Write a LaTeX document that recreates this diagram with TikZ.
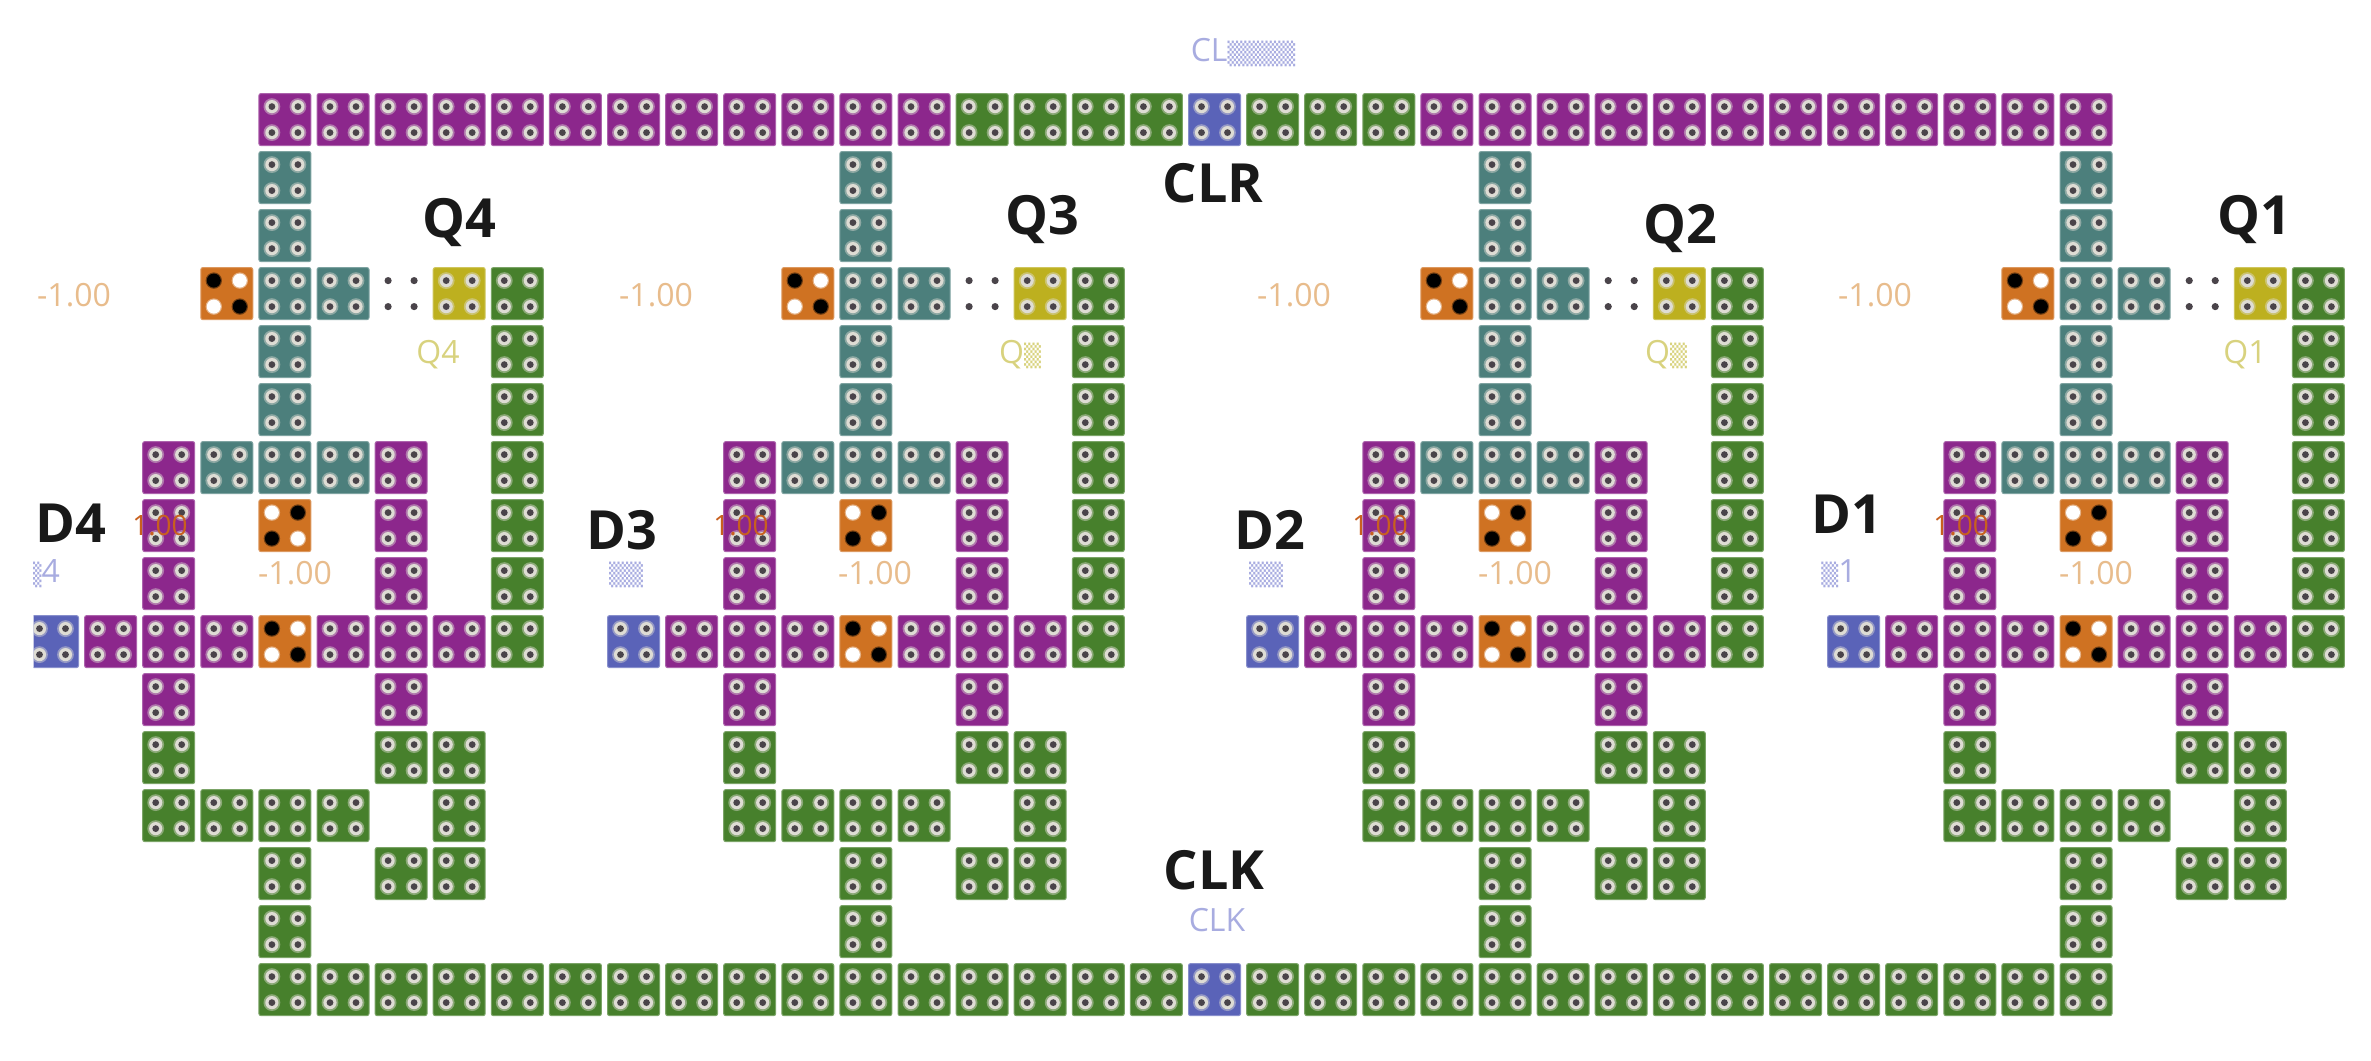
\documentclass[tikz,border=0pt]{standalone}
\usepackage{fontspec}
\setmainfont{Open Sans}
\newfontfamily\tofu{DejaVu Sans}
\definecolor{cpurple}{HTML}{8C278C}
\definecolor{cteal}{HTML}{4C7F7C}
\definecolor{cgreen}{HTML}{47802C}
\definecolor{corange}{HTML}{CF7222}
\definecolor{cyellow}{HTML}{BDB01F}
\definecolor{cblue}{HTML}{5A63B8}
\definecolor{lorange}{HTML}{E8BC8C}
\definecolor{lyellow}{HTML}{D8D27E}
\definecolor{lblue}{HTML}{A8ACE0}
\definecolor{lred}{HTML}{C8601E}
\definecolor{ring}{HTML}{DEDCD4}
\definecolor{core}{HTML}{4A444A}
\tikzset{
  cell/.style={inner sep=0pt,minimum size=52pt,rounded corners=2pt,fill=#1,draw=#1!72!white,line width=1pt},
  biglabel/.style={inner sep=0pt,text depth=0pt,text height=38.5pt,text=black!90,font=\fontsize{54}{54}\selectfont\bfseries},
  smalllabel/.style={inner sep=0pt,text depth=0pt,text height=23pt,text=#1,font=\fontsize{32}{32}\selectfont},
  onlabel/.style={inner sep=0pt,text depth=0pt,text height=20pt,text=lred,font=\fontsize{28}{28}\selectfont},
}
% tofu boxes as printed by the reference
\newcommand\tf{{\tofu\fontsize{22}{22}\selectfont ▒}}
\newcommand\Hole[2]{%
  \fill[ring,opacity=.45] (#1,#2) circle[radius=8.4pt];
  \fill[ring] (#1,#2) circle[radius=6.6pt];
  \fill[core] (#1,#2) circle[radius=3.4pt];}
\newcommand\Solid[3]{%
  \fill[#3,opacity=.45] (#1,#2) circle[radius=8.2pt];
  \fill[#3] (#1,#2) circle[radius=7pt];}
\newcommand\Cell[3]{% row, column, colour
  \pgfmathsetmacro\cx{284.9+58.1*#2}%
  \pgfmathsetmacro\cy{119.6+58*#1}%
  \node[cell=#3] (n#1c#2) at (\cx,\cy) {};
  \Hole{\cx-13}{\cy-13}\Hole{\cx+13}{\cy-13}\Hole{\cx-13}{\cy+13}\Hole{\cx+13}{\cy+13}}
\newcommand\Sign[3]{% row, column, flag: 0 = black top-left, 1 = white top-left
  \pgfmathsetmacro\cx{284.9+58.1*#2}%
  \pgfmathsetmacro\cy{119.6+58*#1}%
  \node[cell=corange] (n#1c#2) at (\cx,\cy) {};
  \ifnum#3=0
    \Solid{\cx-13}{\cy-13}{black}\Solid{\cx+13}{\cy+13}{black}
    \Solid{\cx+13}{\cy-13}{white}\Solid{\cx-13}{\cy+13}{white}
  \else
    \Solid{\cx-13}{\cy-13}{white}\Solid{\cx+13}{\cy+13}{white}
    \Solid{\cx+13}{\cy-13}{black}\Solid{\cx-13}{\cy+13}{black}
  \fi}
\newcommand\Dots[2]{%
  \pgfmathsetmacro\cx{284.9+58.1*#2}%
  \pgfmathsetmacro\cy{119.6+58*#1}%
  \fill[core] (\cx-13,\cy-13) circle[radius=3.6pt] (\cx+13,\cy-13) circle[radius=3.6pt]
              (\cx-13,\cy+13) circle[radius=3.6pt] (\cx+13,\cy+13) circle[radius=3.6pt];}
\newcommand\Block[1]{%
  \pgfmathtruncatemacro\a{#1-4}\pgfmathtruncatemacro\b{#1-3}\pgfmathtruncatemacro\d{#1-2}%
  \pgfmathtruncatemacro\e{#1-1}\pgfmathtruncatemacro\f{#1+1}\pgfmathtruncatemacro\g{#1+2}%
  \pgfmathtruncatemacro\h{#1+3}\pgfmathtruncatemacro\i{#1+4}%
  \edef\args{{\a}{\b}{\d}{\e}{#1}{\f}{\g}{\h}{\i}}%
  \expandafter\BlockBody\args}
\newcommand\BlockBody[9]{%
  \Cell{1}{#5}{cteal}\Cell{2}{#5}{cteal}
  \Sign{3}{#4}{0}\Cell{3}{#5}{cteal}\Cell{3}{#6}{cteal}\Dots{3}{#7}\Cell{3}{#8}{cyellow}\Cell{3}{#9}{cgreen}
  \Cell{4}{#5}{cteal}\Cell{4}{#9}{cgreen}
  \Cell{5}{#5}{cteal}\Cell{5}{#9}{cgreen}
  \Cell{6}{#3}{cpurple}\Cell{6}{#4}{cteal}\Cell{6}{#5}{cteal}\Cell{6}{#6}{cteal}\Cell{6}{#7}{cpurple}\Cell{6}{#9}{cgreen}
  \Cell{7}{#3}{cpurple}\Sign{7}{#5}{1}\Cell{7}{#7}{cpurple}\Cell{7}{#9}{cgreen}
  \Cell{8}{#3}{cpurple}\Cell{8}{#7}{cpurple}\Cell{8}{#9}{cgreen}
  \Cell{9}{#1}{cblue}\Cell{9}{#2}{cpurple}\Cell{9}{#3}{cpurple}\Cell{9}{#4}{cpurple}\Sign{9}{#5}{0}\Cell{9}{#6}{cpurple}\Cell{9}{#7}{cpurple}\Cell{9}{#8}{cpurple}\Cell{9}{#9}{cgreen}
  \Cell{10}{#3}{cpurple}\Cell{10}{#7}{cpurple}
  \Cell{11}{#3}{cgreen}\Cell{11}{#7}{cgreen}\Cell{11}{#8}{cgreen}
  \Cell{12}{#3}{cgreen}\Cell{12}{#4}{cgreen}\Cell{12}{#5}{cgreen}\Cell{12}{#6}{cgreen}\Cell{12}{#8}{cgreen}
  \Cell{13}{#5}{cgreen}\Cell{13}{#7}{cgreen}\Cell{13}{#8}{cgreen}
  \Cell{14}{#5}{cgreen}}
\begin{document}
\begin{tikzpicture}[x=1pt,y=-1pt]
\useasboundingbox (0,0) rectangle (2371,1060);
\begin{scope}
  \clip (33.6,0) rectangle (2371,1060);
  % top and bottom rails
  \foreach \k in {0,...,11,20,21,...,31} {\Cell{0}{\k}{cpurple}}
  \foreach \k in {12,...,15,17,18,19} {\Cell{0}{\k}{cgreen}}
  \Cell{0}{16}{cblue}
  \foreach \k in {0,...,15,17,18,...,31} {\Cell{15}{\k}{cgreen}}
  \Cell{15}{16}{cblue}
  \Block{0}\Block{10}\Block{21}\Block{31}
\end{scope}
% large labels
\node[biglabel] (lclr) at (1213,183) {CLR};
\node[biglabel] (lclk) at (1214,870) {CLK};
\node[biglabel] (lq4) at (459,218) {Q4};
\node[biglabel] (lq3) at (1042,215) {Q3};
\node[biglabel] (lq2) at (1680,224) {Q2};
\node[biglabel] (lq1) at (2254,215) {Q1};
\node[biglabel] (ld4) at (71,523) {D4};
\node[biglabel] (ld3) at (622,530) {D3};
\node[biglabel] (ld2) at (1270,530) {D2};
\node[biglabel] (ld1) at (1847,514) {D1};
% faint labels
\node[smalllabel=lblue] (sclr) at (1243,50) {CL\tf\tf\tf\tf};
\node[smalllabel=lblue] (sclk) at (1217,920) {CLK};
\foreach \n/\x in {a/74,b/656,c/1294,d/1875} {\node[smalllabel=lorange] (m\n) at (\x,295) {-1.00};}
\foreach \n/\x in {a/295,b/875,c/1515,d/2096} {\node[smalllabel=lorange] (p\n) at (\x,573) {-1.00};}
\node[smalllabel=lyellow] (sq4) at (438,352) {Q4};
\node[smalllabel=lyellow] (sq3) at (1020,352) {Q\tf};
\node[smalllabel=lyellow] (sq2) at (1666,352) {Q\tf};
\node[smalllabel=lyellow] (sq1) at (2245,352) {Q1};
\begin{scope}
  \clip (33.6,500) rectangle (200,640);
  \node[smalllabel=lblue,anchor=east] (sd4) at (60,571) {\tf4};
\end{scope}
\node[smalllabel=lblue] (sd3) at (626,571) {\tf\tf};
\node[smalllabel=lblue] (sd2) at (1266,571) {\tf\tf};
\node[smalllabel=lblue] (sd1) at (1839,571) {\tf1};
\foreach \n/\x in {a/160,b/741,c/1380,d/1961} {\node[onlabel] (o\n) at (\x,525) {1.00};}
\end{tikzpicture}
\end{document}
